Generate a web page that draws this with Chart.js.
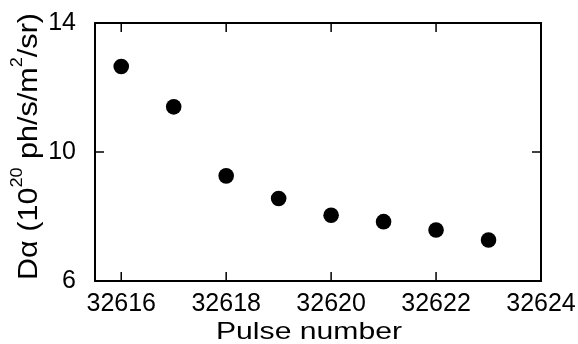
<!DOCTYPE html>
<html>
<head>
<meta charset="utf-8">
<script src="https://cdn.jsdelivr.net/npm/chart.js@4/dist/chart.umd.min.js"></script>
<style>
  html, body { margin: 0; padding: 0; background: #fff; }
  #wrap { width: 578px; height: 344px; }
</style>
</head>
<body>
<div id="wrap"><canvas id="chart"></canvas></div>
<script>
// data
const pulses = [32616, 32617, 32618, 32619, 32620, 32621, 32622, 32623];
const dAlpha = [12.65, 11.40, 9.26, 8.56, 8.04, 7.84, 7.58, 7.27];
const xTicks = [32616, 32618, 32620, 32622, 32624];
const yTicks = [6, 10, 14];
const xRange = [32615.5, 32624];
const yRange = [6, 14];

const FONT = "'Liberation Sans', Arial, sans-serif";

// draws a line of text with superscripts, stretched to a given width
function drawRich(ctx, parts, size, width) {
    const supSize = Math.round(size * 0.58);
    let total = 0;
    parts.forEach(p => {
        ctx.font = (p.sup ? supSize : size) + "px " + FONT;
        p.w = ctx.measureText(p.text).width;
        total += p.w;
    });
    ctx.scale(width / total, 1);
    let x = -total / 2;
    ctx.textBaseline = "alphabetic";
    ctx.textAlign = "left";
    parts.forEach(p => {
        ctx.font = (p.sup ? supSize : size) + "px " + FONT;
        ctx.fillText(p.text, x, p.sup ? -size * 0.55 : 0);
        x += p.w;
    });
}

// frame, inward ticks and axis titles
const framePlugin = {
    id: "frame",
    afterDraw(chart) {
        const ctx = chart.ctx;
        const a = chart.chartArea;
        const xs = chart.scales.x, ys = chart.scales.y;
        const len = 9;
        ctx.save();
        ctx.strokeStyle = "#000";
        ctx.lineWidth = 2;
        ctx.strokeRect(a.left, a.top, a.right - a.left, a.bottom - a.top);
        ctx.lineWidth = 1.5;
        ctx.beginPath();
        xTicks.forEach(v => {
            const px = xs.getPixelForValue(v);
            ctx.moveTo(px, a.bottom); ctx.lineTo(px, a.bottom - len);
            ctx.moveTo(px, a.top); ctx.lineTo(px, a.top + len);
        });
        yTicks.forEach(v => {
            const py = ys.getPixelForValue(v);
            ctx.moveTo(a.left, py); ctx.lineTo(a.left + len, py);
            ctx.moveTo(a.right, py); ctx.lineTo(a.right - len, py);
        });
        ctx.stroke();

        ctx.fillStyle = "#000";
        // x title
        ctx.save();
        ctx.translate(309, 339);
        drawRich(ctx, [{ text: "Pulse number" }], 24, 186);
        ctx.restore();
        // y title
        ctx.save();
        ctx.translate(37, 146.5);
        ctx.rotate(-Math.PI / 2);
        drawRich(ctx, [
            { text: "D\u03b1 (10" },
            { text: "20", sup: true },
            { text: " ph/s/m" },
            { text: "2", sup: true },
            { text: "/sr)" }
        ], 27, 267);
        ctx.restore();
        ctx.restore();
    }
};

new Chart(document.getElementById("chart"), {
    type: "scatter",
    data: {
        datasets: [{
            data: pulses.map((p, i) => ({ x: p, y: dAlpha[i] })),
            backgroundColor: "#000",
            borderWidth: 0,
            pointRadius: 7.8,
            pointHoverRadius: 7.8
        }]
    },
    options: {
        responsive: true,
        maintainAspectRatio: false,
        animation: false,
        layout: { padding: { left: 0, top: 23, right: 37, bottom: 0 } },
        plugins: { legend: { display: false }, tooltip: { enabled: false } },
        scales: {
            x: {
                type: "linear",
                min: xRange[0],
                max: xRange[1],
                afterBuildTicks: s => { s.ticks = xTicks.map(v => ({ value: v })); },
                afterFit: s => { s.height = 63; s.paddingLeft = 0; s.paddingRight = 0; },
                grid: { display: false },
                border: { display: false },
                ticks: {
                    padding: 0,
                    color: "#000",
                    font: { family: FONT, size: 25 },
                    maxRotation: 0,
                    callback: v => String(v)
                }
            },
            y: {
                min: yRange[0],
                max: yRange[1],
                afterBuildTicks: s => { s.ticks = yTicks.map(v => ({ value: v })); },
                afterFit: s => { s.width = 95; s.paddingTop = 0; s.paddingBottom = 0; },
                grid: { display: false },
                border: { display: false },
                ticks: {
                    padding: 11,
                    color: "#000",
                    font: { family: FONT, size: 25 },
                    callback: v => String(v)
                }
            }
        }
    },
    plugins: [framePlugin]
});
</script>
</body>
</html>
